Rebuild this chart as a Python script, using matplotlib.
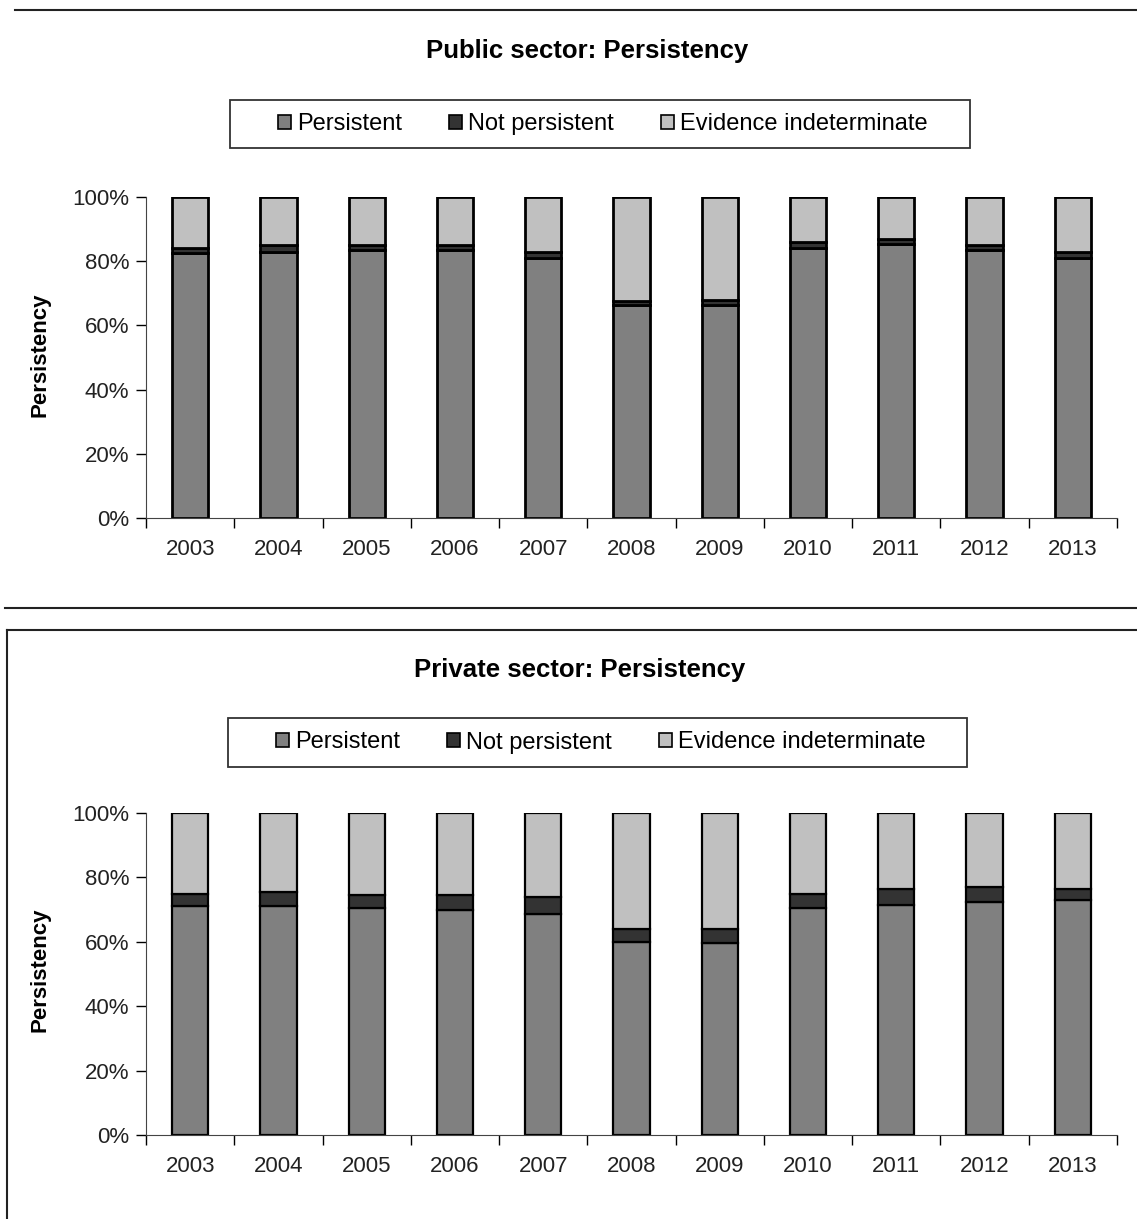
import matplotlib
matplotlib.use("Agg")
import matplotlib.pyplot as plt
from matplotlib.lines import Line2D
from matplotlib.patches import Patch, Rectangle
import numpy as np

plt.rcParams['font.family'] = ['Liberation Sans', 'DejaVu Sans']

# Data (percent)
years = ["2003", "2004", "2005", "2006", "2007", "2008", "2009", "2010", "2011", "2012", "2013"]
series_names = ["Persistent", "Not persistent", "Evidence indeterminate"]

public_persistent = [82.5, 83, 83.5, 83.5, 81, 66.5, 66.5, 84, 85.5, 83.5, 81]
public_not_persistent = [1.5, 2, 1.5, 1.5, 2, 1, 1.5, 2, 1.5, 1.5, 2]
public_indeterminate = [16, 15, 15, 15, 17, 32.5, 32, 14, 13, 15, 17]

private_persistent = [71, 71, 70.5, 70, 68.5, 60, 59.5, 70.5, 71.5, 72.5, 73]
private_not_persistent = [4, 4.5, 4, 4.5, 5.5, 4, 4.5, 4.5, 5, 4.5, 3.5]
private_indeterminate = [25, 24.5, 25.5, 25.5, 26, 36, 36, 25, 23.5, 23, 23.5]

colors = ["#808080", "#333333", "#c0c0c0"]

W, H = 1137, 1219
fig = plt.figure(figsize=(W / 100, H / 100), dpi=100)


def px(x, y):
    return x / W, 1 - y / H


def draw_panel(rect, title, title_xy, legend_box, ylab_y, values, edge_lw):
    ax = fig.add_axes(rect)
    x = np.arange(len(years))
    bottom = np.zeros(len(years))
    for vals, col in zip(values, colors):
        ax.bar(x, vals, width=0.41, bottom=bottom, color=col,
               edgecolor="black", linewidth=edge_lw)
        bottom += np.array(vals)
    ax.set_xlim(-0.5, len(years) - 0.5)
    ax.set_ylim(0, 100)
    ax.set_yticks(range(0, 101, 20))
    ax.set_yticklabels([f"{v}%" for v in range(0, 101, 20)], fontsize=16, color="#222222")
    ax.set_xticks(x)
    ax.set_xticklabels(years, fontsize=16, color="#222222")
    ax.set_xticks(np.arange(-0.5, len(years), 1), minor=True)
    ax.tick_params(axis="x", which="major", length=0, pad=15)
    ax.tick_params(axis="x", which="minor", length=7, width=1, direction="out")
    ax.tick_params(axis="y", length=7, width=1, direction="out", pad=5)
    for s in ["top", "right"]:
        ax.spines[s].set_visible(False)
    ax.spines["left"].set_color("#444444")
    ax.spines["bottom"].set_color("#444444")

    fig.text(*px(*title_xy), title, ha="center", va="center",
             fontsize=18.5, fontweight="bold")
    fig.text(*px(40, ylab_y), "Persistency", ha="center", va="center",
             rotation=90, fontsize=16, fontweight="bold")

    # legend box drawn by hand, it is wider than the entries
    x0, y0, x1, y1 = legend_box
    fig.add_artist(Rectangle(px(x0, y1), (x1 - x0) / W, (y1 - y0) / H,
                             transform=fig.transFigure, facecolor="white",
                             edgecolor="#333333", linewidth=1.3))
    handles = [Patch(facecolor=c, edgecolor="black", linewidth=1.2) for c in colors]
    fig.legend(handles, series_names, loc="center",
               bbox_to_anchor=px((x0 + x1) / 2 + 3, (y0 + y1) / 2), ncol=3,
               fontsize=17, frameon=False,
               handlelength=0.55, handleheight=0.55, handletextpad=0.25,
               columnspacing=2.0, borderpad=0.3, borderaxespad=0)
    return ax


draw_panel([146 / W, 1 - 518 / H, 971 / W, 321 / H],
           "Public sector: Persistency", (587, 51), (230, 100, 970, 148), 355,
           [public_persistent, public_not_persistent, public_indeterminate], 2.0)

draw_panel([146 / W, 1 - 1135 / H, 971 / W, 322 / H],
           "Private sector: Persistency", (580, 670), (228, 718, 967, 767), 970,
           [private_persistent, private_not_persistent, private_indeterminate], 1.6)

# Separator lines and the frame around the lower panel
fig.add_artist(Line2D([15 / W, 1], [1 - 10 / H] * 2, color="#222222", lw=1.5))
fig.add_artist(Line2D([5 / W, 1], [1 - 608 / H] * 2, color="#222222", lw=1.5))
fig.add_artist(Line2D([7 / W, 1], [1 - 630 / H] * 2, color="#222222", lw=1.5))
fig.add_artist(Line2D([7 / W, 7 / W], [1 - 630 / H, 0], color="#222222", lw=1.5))

fig.savefig("out.png", dpi=100)
